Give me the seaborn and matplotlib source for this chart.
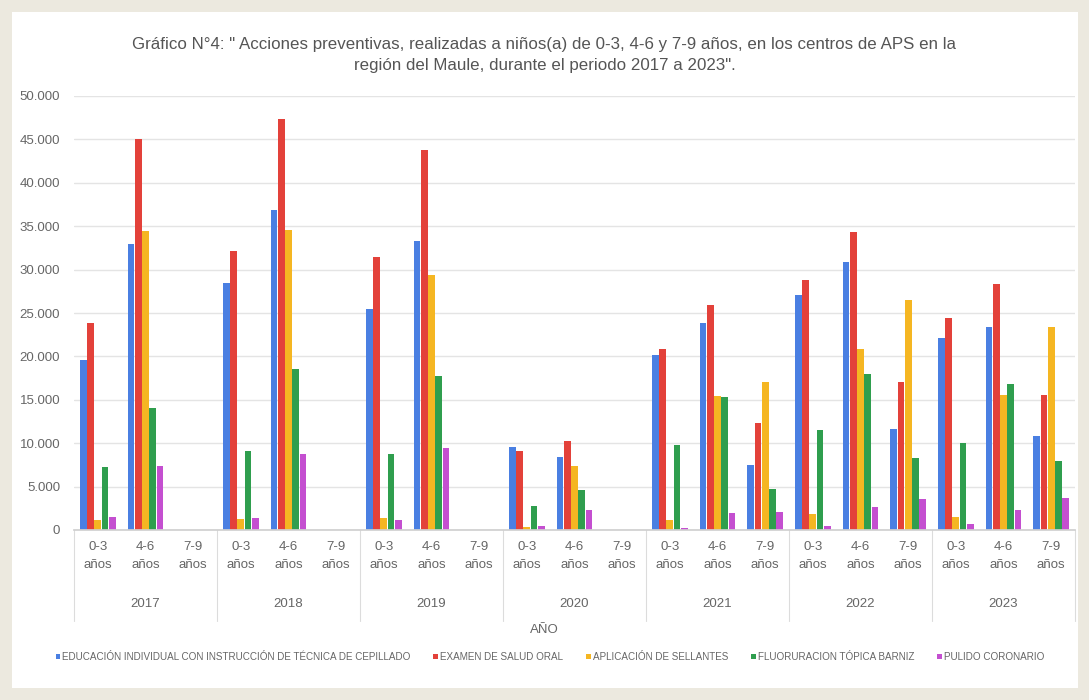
# Gráfico N°4 - acciones preventivas en APS, región del Maule 2017-2023

import matplotlib.pyplot as plt
from matplotlib.patches import Rectangle
from matplotlib.ticker import FuncFormatter
import seaborn as sns
import pandas as pd

anios = ['2017', '2018', '2019', '2020', '2021', '2022', '2023']
edades = ['0-3', '4-6', '7-9']

series = ['EDUCACIÓN INDIVIDUAL CON INSTRUCCIÓN DE TÉCNICA DE CEPILLADO',
          'EXAMEN DE SALUD ORAL',
          'APLICACIÓN DE SELLANTES',
          'FLUORURACION TÓPICA BARNIZ',
          'PULIDO CORONARIO']

# valores por categoria: 2017 (0-3, 4-6, 7-9), 2018 (...), ... 2023
educacion = [19600, 32900, 0, 28400, 36900, 0, 25500, 33300, 0, 9600, 8450, 0,
             20200, 23900, 7500, 27100, 30900, 11600, 22100, 23400, 10850]
examen = [23900, 45100, 0, 32200, 47400, 0, 31400, 43800, 0, 9050, 10250, 0,
          20800, 25900, 12300, 28800, 34300, 17000, 24400, 28300, 15500]
sellantes = [1150, 34500, 0, 1300, 34600, 0, 1400, 29400, 0, 300, 7400, 0,
             1100, 15400, 17000, 1800, 20900, 26500, 1550, 15550, 23350]
fluor = [7250, 14050, 0, 9050, 18600, 0, 8700, 17700, 0, 2750, 4600, 0,
         9800, 15350, 4700, 11500, 17950, 8350, 10000, 16800, 7900]
pulido = [1450, 7400, 0, 1400, 8750, 0, 1100, 9400, 0, 450, 2300, 0,
          200, 1950, 2050, 450, 2700, 3550, 650, 2300, 3700]

colores = ['#4a7fe2', '#e3413a', '#f5b622', '#2f9e4e', '#c44fd0']

categorias = [f'{a} {e}' for a in anios for e in edades]
valores = [educacion, examen, sellantes, fluor, pulido]
filas = []
for s, vals in zip(series, valores):
    for c, v in zip(categorias, vals):
        filas.append({'categoria': c, 'serie': s, 'valor': v})
df = pd.DataFrame(filas)

sns.set_theme(style='white')
plt.rcParams['font.family'] = ['Liberation Sans', 'DejaVu Sans']
gris = '#666666'

fig = plt.figure(figsize=(10.89, 7), dpi=100, facecolor='#ece9df')
fig.patches.append(Rectangle((12 / 1089, 12 / 700), 1066 / 1089, 676 / 700,
                             transform=fig.transFigure, facecolor='white',
                             edgecolor='none', zorder=-10))
ax = fig.add_axes([74 / 1089, 1 - 530 / 700, 1001 / 1089, 434 / 700])
ax.set_facecolor('white')

sns.barplot(data=df, x='categoria', y='valor', hue='serie', order=categorias,
            hue_order=series, palette=colores, saturation=1, width=0.76,
            gap=0.06, linewidth=0, ax=ax)

ax.set_ylim(0, 50000)
ax.set_xlim(-0.5, len(categorias) - 0.5)
ax.set_yticks(range(0, 50001, 5000))
ax.yaxis.set_major_formatter(FuncFormatter(lambda v, p: f'{int(v):,}'.replace(',', '.')))
ax.grid(axis='y', color='#e4e4e4', linewidth=1)
ax.set_axisbelow(True)
for s in ['top', 'right', 'left']:
    ax.spines[s].set_visible(False)
ax.spines['bottom'].set_color('#d0d0d0')
ax.tick_params(axis='y', colors=gris, labelsize=9.5, length=0, pad=10)
ax.tick_params(axis='x', colors=gris, labelsize=9.5, length=0, pad=8)
ax.set_xticks(range(len(categorias)))
ax.set_xticklabels([f'{e}\naños' for a in anios for e in edades], linespacing=1.6)
ax.set_xlabel('')
ax.set_ylabel('')

# años como segundo nivel del eje x
trans = ax.get_xaxis_transform()
for i, a in enumerate(anios):
    ax.text(3 * i + 1, -0.17, a, transform=trans, ha='center', va='center',
            fontsize=9.5, color=gris)
for k in range(len(anios) + 1):
    ax.plot([3 * k - 0.5, 3 * k - 0.5], [0, -0.21], transform=trans,
            color='#dcdcdc', linewidth=0.8, clip_on=False)

fig.text(0.5, 1 - 630 / 700, 'AÑO', ha='center', va='center', fontsize=9.5, color=gris)

fig.text(0.5, 1 - 55 / 700,
         'Gráfico N°4: " Acciones preventivas, realizadas a niños(a) de 0-3, 4-6 y 7-9 años, '
         'en los centros de APS en la\nregión del Maule, durante el periodo 2017 a 2023".',
         ha='center', va='center', fontsize=12.2, color='#555555', linespacing=1.5)

handles, labels = ax.get_legend_handles_labels()
ax.get_legend().remove()
fig.legend(handles, labels, loc='center', bbox_to_anchor=(0.505, 1 - 657 / 700),
           ncol=5, frameon=False, fontsize=7.1, labelcolor=gris,
           handlelength=0.5, handleheight=0.5, handletextpad=0.2, columnspacing=2.3)

fig.savefig('out.png', dpi=100, facecolor=fig.get_facecolor())
